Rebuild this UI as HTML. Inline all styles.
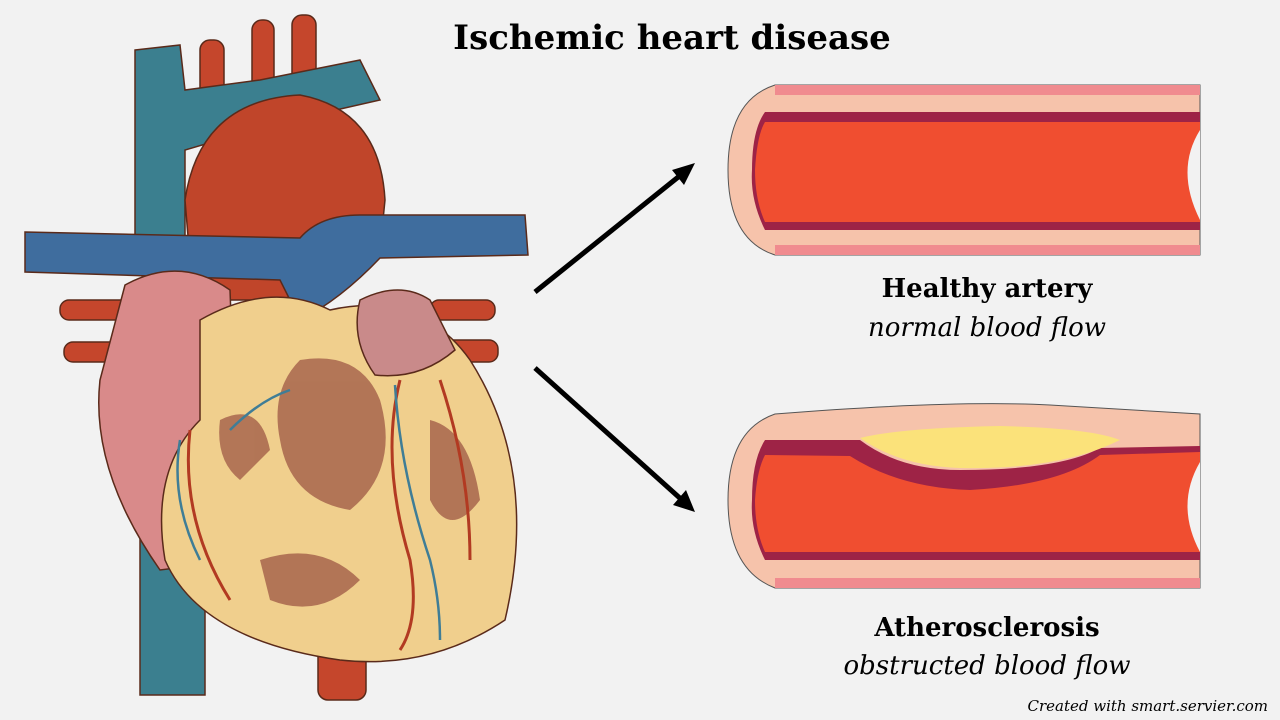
<!DOCTYPE html>
<html><head><meta charset="utf-8"><style>
body{margin:0;width:1280px;height:720px;background:#f2f2f2;overflow:hidden;position:relative;font-family:"DejaVu Serif","Liberation Serif",serif}
.t{position:absolute;text-align:center;color:#000}
</style></head><body>
<svg width="1280" height="720" style="position:absolute;left:0;top:0">
<g stroke="#5a2a1a" stroke-width="1.5">
<rect x="200" y="40" width="24" height="80" rx="10" fill="#c5462c"/>
<rect x="252" y="20" width="22" height="90" rx="10" fill="#c5462c"/>
<rect x="292" y="15" width="24" height="95" rx="10" fill="#c5462c"/>
<rect x="60" y="300" width="70" height="20" rx="9" fill="#c5462c"/>
<rect x="64" y="342" width="70" height="20" rx="9" fill="#c5462c"/>
<rect x="430" y="300" width="65" height="20" rx="9" fill="#c5462c"/>
<rect x="440" y="340" width="58" height="22" rx="9" fill="#c5462c"/>
<rect x="318" y="600" width="48" height="100" rx="10" fill="#c5462c"/>
<rect x="140" y="520" width="65" height="175" fill="#3b7f8f"/>
<path d="M135 50 L180 45 L185 90 L260 80 L360 60 L380 100 L270 125 L185 150 L185 270 L135 270 Z" fill="#3b7f8f"/>
<path d="M185 200 Q200 100 300 95 Q380 110 385 200 L380 250 L340 280 L280 300 L220 300 L190 260 Z" fill="#c0452a"/>
<path d="M25 232 L300 238 Q320 215 360 215 L525 215 L528 255 L380 258 Q340 300 300 320 L280 280 L25 272 Z" fill="#3f6d9e"/>
<path d="M125 285 Q180 255 230 290 L240 560 L160 570 Q90 470 100 380 Z" fill="#d98a8a"/>
<path d="M200 320 Q270 280 330 310 Q420 290 470 360 Q540 470 505 620 Q430 670 340 660 Q200 640 165 560 Q150 470 200 420 Z" fill="#f0cf8d"/>
<path d="M360 300 Q400 280 430 300 L455 350 Q420 380 375 375 Q350 340 360 300 Z" fill="#c98a8a"/>
</g>
<g fill="#a8664d" opacity="0.85">
<path d="M300 360 Q360 350 380 400 Q400 470 350 510 Q290 500 280 440 Q270 390 300 360 Z"/>
<path d="M220 420 Q260 400 270 450 L240 480 Q215 460 220 420 Z"/>
<path d="M430 420 Q470 430 480 500 Q450 540 430 500 Z"/>
<path d="M260 560 Q320 540 360 580 Q320 620 270 600 Z"/>
</g>
<g fill="none" stroke="#b23a22" stroke-width="3">
<path d="M400 380 Q380 460 410 560 Q420 620 400 650"/>
<path d="M440 380 Q470 470 470 560"/>
<path d="M190 430 Q180 520 230 600"/>
</g>
<g fill="none" stroke="#3f7d96" stroke-width="2.5">
<path d="M395 385 Q400 470 430 560 Q440 600 440 640"/>
<path d="M180 440 Q170 500 200 560"/>
<path d="M230 430 Q260 400 290 390"/>
</g>
<g stroke="#000" stroke-width="5">
<line x1="535" y1="292" x2="682" y2="174"/>
<line x1="535" y1="368" x2="682" y2="500"/>
</g>
<polygon points="695,163 672,170 684,185" fill="#000"/>
<polygon points="695,512 673,505 686,490" fill="#000"/>
<g stroke="#555" stroke-width="1">
<path d="M775 85 L1200 85 L1200 255 L775 255 Q728 240 728 170 Q728 100 775 85 Z" fill="#f6c3ab"/>
</g>
<rect x="775" y="85" width="425" height="10" fill="#f08b8f"/>
<rect x="775" y="245" width="425" height="10" fill="#f08b8f"/>
<path d="M765 112 L1200 112 L1200 230 L765 230 Q750 200 752 170 Q752 130 765 112 Z" fill="#9e2346"/>
<path d="M765 122 L1200 122 L1200 222 L765 222 Q755 200 755 170 Q757 135 765 122 Z" fill="#f04e30"/>
<path d="M1200 130 Q1175 170 1200 220 Z" fill="#f2f2f2"/>
<path d="M775 414 Q950 400 1050 405 L1200 414 L1200 588 L775 588 Q728 570 728 500 Q728 430 775 414 Z" fill="#f6c3ab" stroke="#555"/>
<rect x="775" y="578" width="425" height="10" fill="#f08b8f"/>
<path d="M765 440 L860 440 Q900 470 960 470 Q1060 470 1100 448 L1200 446 L1200 560 L765 560 Q750 530 752 500 Q752 460 765 440 Z" fill="#9e2346"/>
<path d="M765 455 L850 456 Q900 488 970 490 Q1060 485 1100 455 L1200 452 L1200 552 L765 552 Q755 530 755 500 Q757 470 765 455 Z" fill="#f04e30"/>
<path d="M860 438 Q900 428 1000 426 Q1090 428 1120 440 Q1060 470 960 468 Q900 466 860 438 Z" fill="#fbe27a"/>
<path d="M1200 462 Q1175 505 1200 552 Z" fill="#f2f2f2"/>
</svg>
<div class="t" style="left:372px;top:18px;width:600px;font-size:34px;font-weight:bold">Ischemic heart disease</div>
<div class="t" style="left:787px;top:274px;width:400px;font-size:26px;font-weight:bold">Healthy artery</div>
<div class="t" style="left:787px;top:313px;width:400px;font-size:26px;font-style:italic">normal blood flow</div>
<div class="t" style="left:787px;top:613px;width:400px;font-size:26px;font-weight:bold">Atherosclerosis</div>
<div class="t" style="left:787px;top:651px;width:400px;font-size:26px;font-style:italic">obstructed blood flow</div>
<div class="t" style="right:12px;top:697px;font-size:15px;font-style:italic">Created with smart.servier.com</div>
</body></html>
